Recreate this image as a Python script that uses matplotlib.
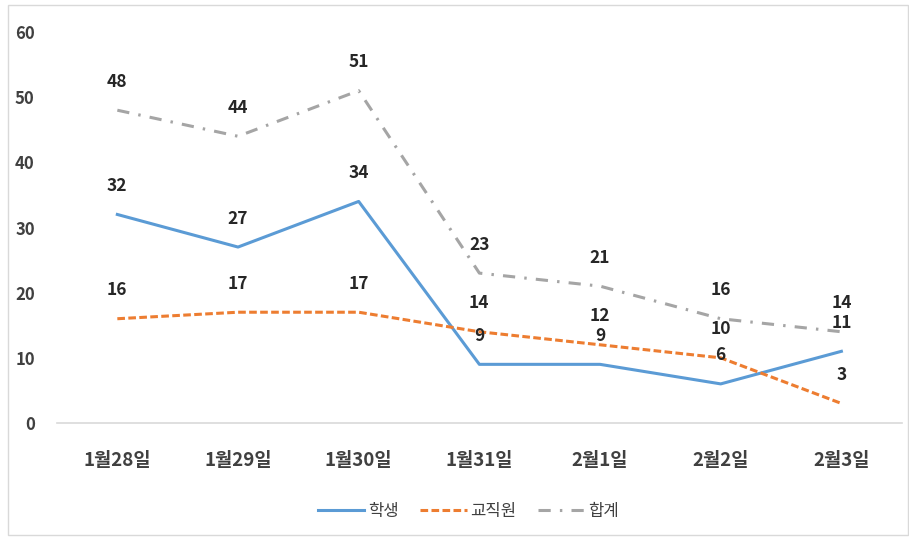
import numpy as np
import matplotlib.pyplot as plt
from matplotlib.patches import Rectangle

plt.rcParams['font.family'] = ['Noto Sans CJK KR', 'DejaVu Sans']

dates = ['1월28일', '1월29일', '1월30일', '1월31일', '2월1일', '2월2일', '2월3일']
students = [32, 27, 34, 9, 9, 6, 11]
staff = [16, 17, 17, 14, 12, 10, 3]
total = [48, 44, 51, 23, 21, 16, 14]

fig = plt.figure(figsize=(9.09, 5.37), dpi=100)
ax = fig.add_axes([0.0627, 0.2123, 0.9293, 0.7281])

x = np.arange(len(dates))
blue = '#5B9BD5'
orange = '#ED7D31'
gray = '#A5A5A5'

ax.plot(x, students, color=blue, lw=2.2, label='학생')
ax.plot(x, staff, color=orange, lw=2.2, ls=(0, (2.5, 1.1)), label='교직원')
ax.plot(x, total, color=gray, lw=2.2, ls=(0, (4, 3, 0.8, 3)), label='합계')

for series in (students, staff, total):
    for xi, v in zip(x, series):
        ax.annotate(str(v), (xi, v), xytext=(0, 14), textcoords='offset points',
                    ha='center', va='bottom', fontsize=12.5, fontweight='bold',
                    color='#262626')

ax.set_xlim(-0.5, len(dates) - 0.5)
ax.set_ylim(0, 60)
ax.set_yticks(range(0, 61, 10))
ax.set_xticks(x)
ax.set_xticklabels(dates)

for s in ['top', 'right', 'left']:
    ax.spines[s].set_visible(False)
ax.spines['bottom'].set_color('#D9D9D9')
ax.spines['bottom'].set_linewidth(1.2)
ax.tick_params(axis='both', length=0)
ax.tick_params(axis='y', pad=16, labelsize=12, labelcolor='#404040')
ax.tick_params(axis='x', pad=20, labelsize=13.5, labelcolor='#404040')
for lab in ax.get_xticklabels() + ax.get_yticklabels():
    lab.set_fontweight('bold')

leg = fig.legend(loc='center', bbox_to_anchor=(0.515, 0.047), ncol=3, frameon=False,
                 fontsize=12, handlelength=2.8, columnspacing=1.3, handletextpad=0.2)
for t in leg.get_texts():
    t.set_color('#404040')

fig.patches.append(Rectangle((0.009, 0.003), 0.99, 0.988, transform=fig.transFigure,
                             fill=False, edgecolor='#D9D9D9', lw=1))

fig.savefig('out.png', dpi=100)
